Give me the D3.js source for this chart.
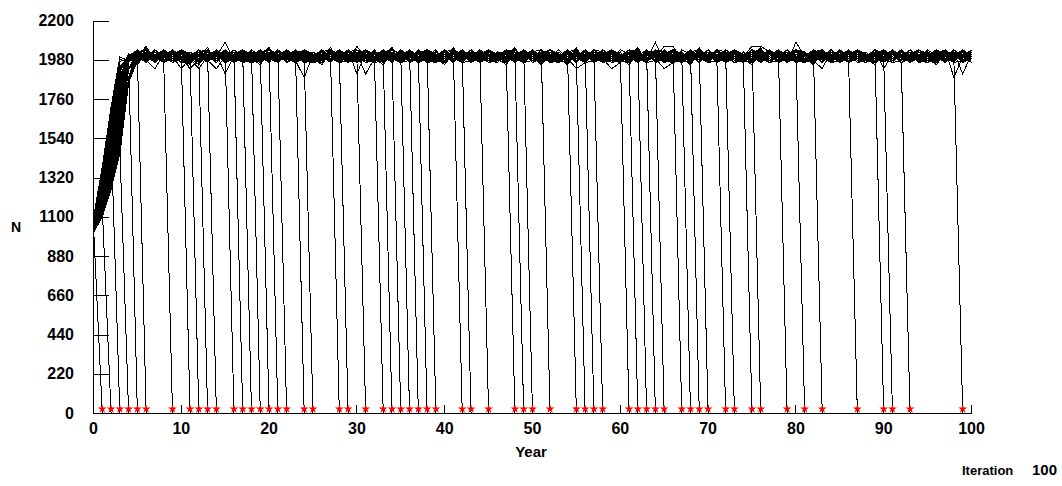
<!DOCTYPE html>
<html>
<head>
<meta charset="utf-8">
<script src="https://cdn.jsdelivr.net/npm/d3@7"></script>
<style>
  html, body { margin: 0; padding: 0; background: #fff; }
  svg { display: block; }
  text { font-family: "Liberation Sans", Arial, sans-serif; font-weight: bold; fill: #000; }
</style>
</head>
<body>
<svg id="chart" width="1062" height="486"></svg>
<script>
// Tick labels
const xTicks = [0, 10, 20, 30, 40, 50, 60, 70, 80, 90, 100];
const yTicks = [0, 220, 440, 660, 880, 1100, 1320, 1540, 1760, 1980, 2200];
const iterationCount = 100;

// Year in which each extinct run hits zero (runs 0..61); runs 62..99 survive
const extinctionYears = [1, 2, 3, 4, 5, 6, 9, 11, 12, 13, 14, 16, 17, 18, 19, 20, 21, 22, 24, 25,
  28, 29, 31, 33, 34, 35, 36, 37, 38, 39, 42, 43, 45, 48, 49, 50, 52, 55, 56, 57,
  58, 61, 62, 63, 64, 65, 67, 68, 69, 70, 72, 73, 75, 76, 79, 81, 83, 87, 90, 91, 93, 99];

// Population of every run in years 0..3 (growth toward carrying capacity)
const year0N = [1052,1038,1071,1016,1064,1045,1083,1029,1058,1091,1033,1047,1069,1022,1076,1055,1041,1088,1011,1063,
  1049,1072,1035,1057,1096,1026,1067,1043,1080,1051,1019,1061,1037,1074,1046,1085,1030,1059,1068,1024,
  1053,1078,1040,1065,1093,1014,1056,1048,1070,1036,1082,1044,1062,1027,1075,1050,1039,1087,1060,1021,
  1066,1042,1079,1054,1032,1073,1046,1098,1018,1058,1069,1034,1084,1050,1063,1028,1077,1041,1057,1090,
  1012,1066,1044,1071,1053,1025,1081,1047,1061,1037,1074,1056,1031,1068,1043,1086,1020,1059,1049,1065];
const year1N = [1199,1153,1287,1122,1235,1186,1317,1133,1257,1348,1165,1211,1264,1107,1298,1224,1175,1333,1100,1248,
  1204,1278,1145,1231,1380,1118,1273,1181,1309,1217,1111,1242,1160,1291,1192,1327,1138,1253,1269,1126,
  1210,1302,1171,1260,1362,1103,1228,1196,1284,1150,1321,1189,1250,1129,1295,1207,1168,1340,1245,1115,
  1263,1178,1313,1220,1142,1289,1202,1370,1108,1238,1274,1147,1330,1214,1255,1124,1305,1184,1232,1345,
  1104,1266,1193,1281,1225,1121,1324,1200,1249,1157,1294,1234,1136,1271,1188,1335,1113,1243,1209,1262];
const year2N = [1421,1332,1568,1281,1470,1402,1608,1311,1520,1672,1355,1441,1519,1268,1588,1452,1382,1634,1254,1505,
  1418,1556,1320,1478,1715,1286,1533,1392,1607,1440,1263,1495,1346,1563,1410,1625,1318,1500,1540,1290,
  1429,1595,1374,1512,1683,1259,1471,1405,1552,1339,1628,1394,1509,1293,1571,1436,1360,1658,1486,1282,
  1530,1375,1602,1457,1326,1575,1415,1698,1270,1488,1536,1323,1642,1448,1503,1296,1588,1384,1479,1655,
  1262,1522,1413,1560,1466,1279,1632,1424,1494,1351,1581,1468,1316,1545,1391,1651,1276,1484,1438,1528];
const year3N = [1652,1548,1822,1488,1709,1628,1871,1522,1765,1944,1572,1676,1780,1470,1833,1700,1593,1914,1456,1734,
  1661,1806,1532,1713,1995,1480,1795,1603,1866,1686,1466,1736,1562,1831,1625,1889,1530,1745,1787,1496,
  1672,1853,1584,1771,1970,1461,1708,1633,1817,1542,1891,1619,1751,1501,1839,1667,1578,1926,1729,1474,
  1776,1597,1875,1691,1526,1828,1644,1984,1472,1715,1798,1537,1907,1668,1760,1491,1858,1608,1704,1938,
  1452,1782,1627,1812,1690,1485,1896,1641,1737,1556,1836,1707,1515,1793,1616,1918,1469,1726,1657,1773];

// Population level codes used from year 4 on
const levelCodes = { "0": 1940, "1": 1952, "2": 1964, "3": 1976, "4": 1988, "5": 2000, "6": 2012,
  "7": 2024, "8": 2036, "9": 2048, a: 1930, b: 1900, c: 1880, e: 1850, x: 2055, y: 2078 };

// One code per year from year 4 until the year before extinction (or year 100)
const plateauRuns = [
  "", "", "", "",
  "4",
  "35",
  "46352",
  "c436475",
  "36547364",
  "453a64753",
  "a46375a4a5",
  "4563745365 47",
  "3574654a36 546",
  "e453647354 6375",
  "45x3657463 a5476",
  "3546375a46 5y3645",
  "a364756354 6b54736",
  "4635475364 74563547",
  "e453746a35 4657364547",
  "3546475364 5374656475 4",
  "5463574635 4756354647 3564",
  "4536475463 6547356453 c6475",
  "c354746354 5463574636 5476354",
  "4657364536 4754635746 3564756b4",
  "3564756436 5476354657 4635476354",
  "e473645365 4736457463 5647536475 3",
  "4365746354 6375463574 6354674536 45",
  "6475364754 3564736457 4635647354 637",
  "3647546374 5364756436 5746354657 4635",
  "5364756473 6457463546 3754635746 35647",
  "e756354657 3647546357 4636547536 45736454",
  "3546473564 7536475463 5746354657 364756435",
  "a354756346 5473645736 4756354746 3564756354 6",
  "4567364754 6354765436 5746357463 5647536475 3645",
  "3645746356 4736547563 4657364754 6354736457 46354",
  "5473654736 4657364574 6354657436 5476354765 436547",
  "c365746357 4635746354 7365476354 6573645763 54736457",
  "6475364574 6354763546 5736475463 5746354675 3645763546 4",
  "3564736457 4635746354 7635476354 6574635746 3546573645 73",
  "c364756374 6354765436 4756347563 5476354763 5476354673 546",
  "4756364573 6457463547 6354763547 6354673546 7354637546 3574",
  "3647564735 4637546357 4635746357 4635746354 7635476354 7635476",
  "a463746354 7365476354 6735463745 6354763546 7354637456 35476354",
  "6354763547 6354735647 3546375463 5746354736 5473645736 457463547",
  "4536475364 7546357463 5476354763 5476354736 5473645763 5476354736",
  "e756473546 3754635746 3547635476 3547635476 3547365473 6547365473 6",
  "5462735184 6357246358 3647253746 5837462537 4652837465 3728465374 628",
  "4736258473 6524736485 2637485263 7452638475 2637485162 7384526374 8526",
  "3648257364 8273645827 3648527364 8253746285 3746258374 6528374652 83746",
  "c253748265 3748256374 8265374826 5374826537 4826537482 65374a2653 748265",
  "4827365482 7365482736 5482736548 2736548273 6548273654 8273654827 36548273",
  "2738465273 8465273846 5273846527 3846527384 6527384652 7384652738 465273846",
  "5372846537 2846537284 6537284653 7284653728 4653728465 3728465372 8465372846 5",
  "c846275384 6275384627 5384627538 4627538462 7538462753 8462753846 2753846275 38",
  "6473825647 3825647382 5647382564 7382564738 2564738256 4738256473 y256473825 64738",
  "4592736459 2736459273 6459273645 9273645927 3645927364 5927364592 7364592736 4592736",
  "a658274365 8274365827 4365827436 5827436582 7436582743 6582743658 2743658274 365827436",
  "5274638527 4638527463 8527463852 7463852746 3852746385 2746385274 6385274638 5274638527 463",
  "4783526478 3526478352 6478352647 8352647835 2647835264 7835264783 5264783526 4783526478 352647",
  "e647385264 7385264738 5264738526 4738526473 8526473852 6473852647 3852647385 2647385264 7385264",
  "5836274583 6274583627 4583627458 3627458362 7458362745 8362745836 2745836274 5836274583 627458362",
  "3572846357 2846357284 6357284635 7284635728 4635728463 5728463572 8463572846 3572846357 2846357284 63572",
  "4563746352 6473854637 2546378465 3746253847 6354726358 4736254873 6524736584 7362548736 5247365846 3758462",
  "3647582635 4758263745 8263547382 6354738265 4738265473 8265473826 5473826547 3826547382 6547382654 7382654",
  "c738264573 8264573826 4573826457 3826457382 6457382645 7382645738 2645738264 5738264573 8264573826 4573826",
  "6254738625 4738625473 8625473862 5473862547 3862547386 2547386254 7386254738 6254738625 4738625473 8625473",
  "4836257483 6257483625 7483625748 3625748362 5748362574 8362574836 2574836257 4836257483 6257483625 7483625",
  "2758364275 8364275836 4275836427 5836427583 6427583642 7583642758 3642758364 2758364275 8364275836 4275836",
  "e364827536 4827536482 7536482753 6482753648 2753648275 3648275364 8275364827 5364827536 4827536482 7536482",
  "3475826347 5826347582 6347582634 7582634758 2634758263 4758263475 8263475826 3475826347 5826347582 6347582",
  "5463728546 3827456372 8456374852 6374582736 4528736455 3847265374 8256374856 2743658247 3658472635 8472635",
  "c748526374 5826374582 4637528463 7452836475 2836475283 6475238647 5328647538 2647583264 7583246758 3247658",
  "6357482635 7428635742 8365742836 5748263574 8263547826 3548726354 8726354872 6354827635 4827653482 7653482",
  "4826375482 6375428637 5428673542 8675342867 5438267543 8267453826 7453826745 3862745386 2745386274 5386274",
  "2637485263 7485236748 5236748523 6748532674 8532674853 2674853267 4853267485 3267485326 7485326748 5326748",
  "e482637548 2637584263 7584236758 4236758423 6758423675 8423675842 3675842367 5842367584 2367584236 7584236",
  "3756248375 6248375624 8375624837 5624837562 4837562483 7562483756 2483756248 3756248375 6248375624 8375624",
  "4628573462 8573462857 3462857346 2857346285 7346285734 6285734628 5734628573 4628573462 8573462857 3462857",
  "6374825637 4825637482 5637482563 7482563748 2563748256 3748256374 8256374825 6374825637 4825637482 5637482",
  "5273846527 3846527384 6527384652 7384652738 4652738465 2738465273 8465273846 5273846527 3846527384 6527384",
  "e365827436 5827436582 7436582743 6582743658 2743658274 3658274365 8274365827 4365827436 5827436582 7436582",
  "3846572384 6572384657 2384657238 4657238465 7238465723 8465723846 5723846572 3846572384 6572384657 2384657",
  "6258473625 8473625847 3625847362 5847362584 7362584736 2584736258 4736258473 6258473625 8473625847 3625847",
  "4573826457 3826457382 6457382645 7382645738 2645738264 5738264573 8264573826 4573826457 3826457382 6457382",
  "5364728536 4728536472 8536472853 6472853647 2853647285 3647285364 7285364728 536472y536 4728536472 8536472",
  "e728365472 8365472836 547283x472 8365472836 5472836547 2836547283 6547283654 7283654728 3654728365 4728365",
  "3645827364 5827364582 736458b736 4582736458 2736458273 6458273645 8273645827 3645827364 5827364582 7364582",
  "6482735648 2735648273 5648273564 8273564827 3564827356 4a27356482 7356482735 6482735648 2735648273 5648273",
  "2856473285 6473285647 3285647328 5647328564 7328564732 8564732856 4xx3285647 3285647328 5647328564 7328564",
  "a738462573 8462573846 2573846257 3846257384 6257384625 7384625738 4a25738462 5738462573 8462573846 2573846",
  "4683527468 3527468352 7468352746 8352746835 2746835274 6835274683 5274683527 4683527468 3527468352 7468c52",
  "3527468352 7468352746 8352746835 2746835274 6835274683 5274683527 4683527468 3527468352 7468352746 83527b6",
  "c374852637 4852637485 2637485263 7485263748 5263748526 3748526374 8526374852 637485263a 7485263748 5263748",
  "4852637485 2637485263 7485263748 5263748526 3748526374 8526374852 6374852637 4852637485 263748a637 4852637",
  "5627384562 7384562738 4562738456 2738456273 8456273845 6273845627 3845627384 5xx7384562 7384562738 4562738",
  "3462857346 2857346285 7346285734 6285734628 5734628573 4628573462 8573462857 3462857346 2857346285 7346285",
  "e573824657 3824657382 4657382465 7382465738 2465738246 5738246573 8246573824 6573824657 3824657382 4657382",
  "2846375284 6375284637 5284637528 4637528463 7528463752 8463752846 3752846375 2846375284 6375284637 5284637",
  "5382746538 2746538274 6538274653 8274653827 4653827465 3827465382 7465382746 5382746538 2746538274 6538274",
  "4175836417 5836417583 6417583641 7583641758 3641758364 1758364175 8364175836 4175836417 5836417583 6417583"
];

const lastYear = 100;

// Build each run's yearly series
const runs = d3.range(iterationCount).map(i => {
  const ext = i < extinctionYears.length ? extinctionYears[i] : null;
  const growth = [year0N[i], year1N[i], year2N[i], year3N[i]];
  const codes = plateauRuns[i].replace(/\s/g, "");
  const end = ext === null ? lastYear : ext - 1;
  const pts = [];
  for (let t = 0; t <= end; t++) {
    const v = t < 4 ? growth[t] : levelCodes[codes[t - 4]];
    if (v !== undefined) pts.push([t, v]);
  }
  if (ext !== null) for (let t = ext; t <= lastYear; t++) pts.push([t, 0]);
  return pts;
});

const svg = d3.select("#chart");
const x = d3.scaleLinear().domain([0, 100]).range([93, 971]);
const y = d3.scaleLinear().domain([0, 2200]).range([413, 20.5]);

// Trajectories
const line = d3.line().x(d => x(d[0]) + 0.5).y(d => y(d[1]));
svg.append("g")
  .selectAll("path")
  .data(runs)
  .join("path")
  .attr("d", line)
  .attr("fill", "none")
  .attr("stroke", "#000")
  .attr("stroke-width", 1)
  .attr("shape-rendering", "crispEdges");

// Axes
const yAxis = d3.axisLeft(y).tickValues(yTicks).tickSizeInner(-16).tickSizeOuter(0).tickPadding(19)
  .tickFormat(d3.format("d"));
const gy = svg.append("g").attr("transform", `translate(${x(0)},0)`).call(yAxis);

const xAxis = d3.axisBottom(x).tickValues(xTicks).tickSizeInner(-8).tickSizeOuter(0).tickPadding(10)
  .tickFormat(d3.format("d"));
const gx = svg.append("g").attr("transform", `translate(0,${y(0)})`).call(xAxis);

[gy, gx].forEach(g => {
  g.attr("font-family", null).attr("font-size", null);
  g.selectAll("path, line").attr("stroke", "#000").attr("shape-rendering", "crispEdges");
  g.selectAll("text").style("font-size", "16px");
});

// Extinction markers
svg.append("g")
  .selectAll("path")
  .data(extinctionYears)
  .join("path")
  .attr("d", d3.symbol(d3.symbolStar, 24))
  .attr("transform", d => `translate(${x(d) + 0.5},${y(0) - 4})`)
  .attr("fill", "#ff0000");

// Axis titles and run counter
svg.append("text").attr("x", 16).attr("y", 232).attr("text-anchor", "middle")
  .style("font-size", "14px").text("N");
svg.append("text").attr("x", 531).attr("y", 457).attr("text-anchor", "middle")
  .style("font-size", "15px").text("Year");
svg.append("text").attr("x", 962).attr("y", 475).attr("text-anchor", "start")
  .style("font-size", "13px").text("Iteration");
svg.append("text").attr("x", 1057).attr("y", 475).attr("text-anchor", "end")
  .style("font-size", "15px").text(iterationCount);
</script>
</body>
</html>
